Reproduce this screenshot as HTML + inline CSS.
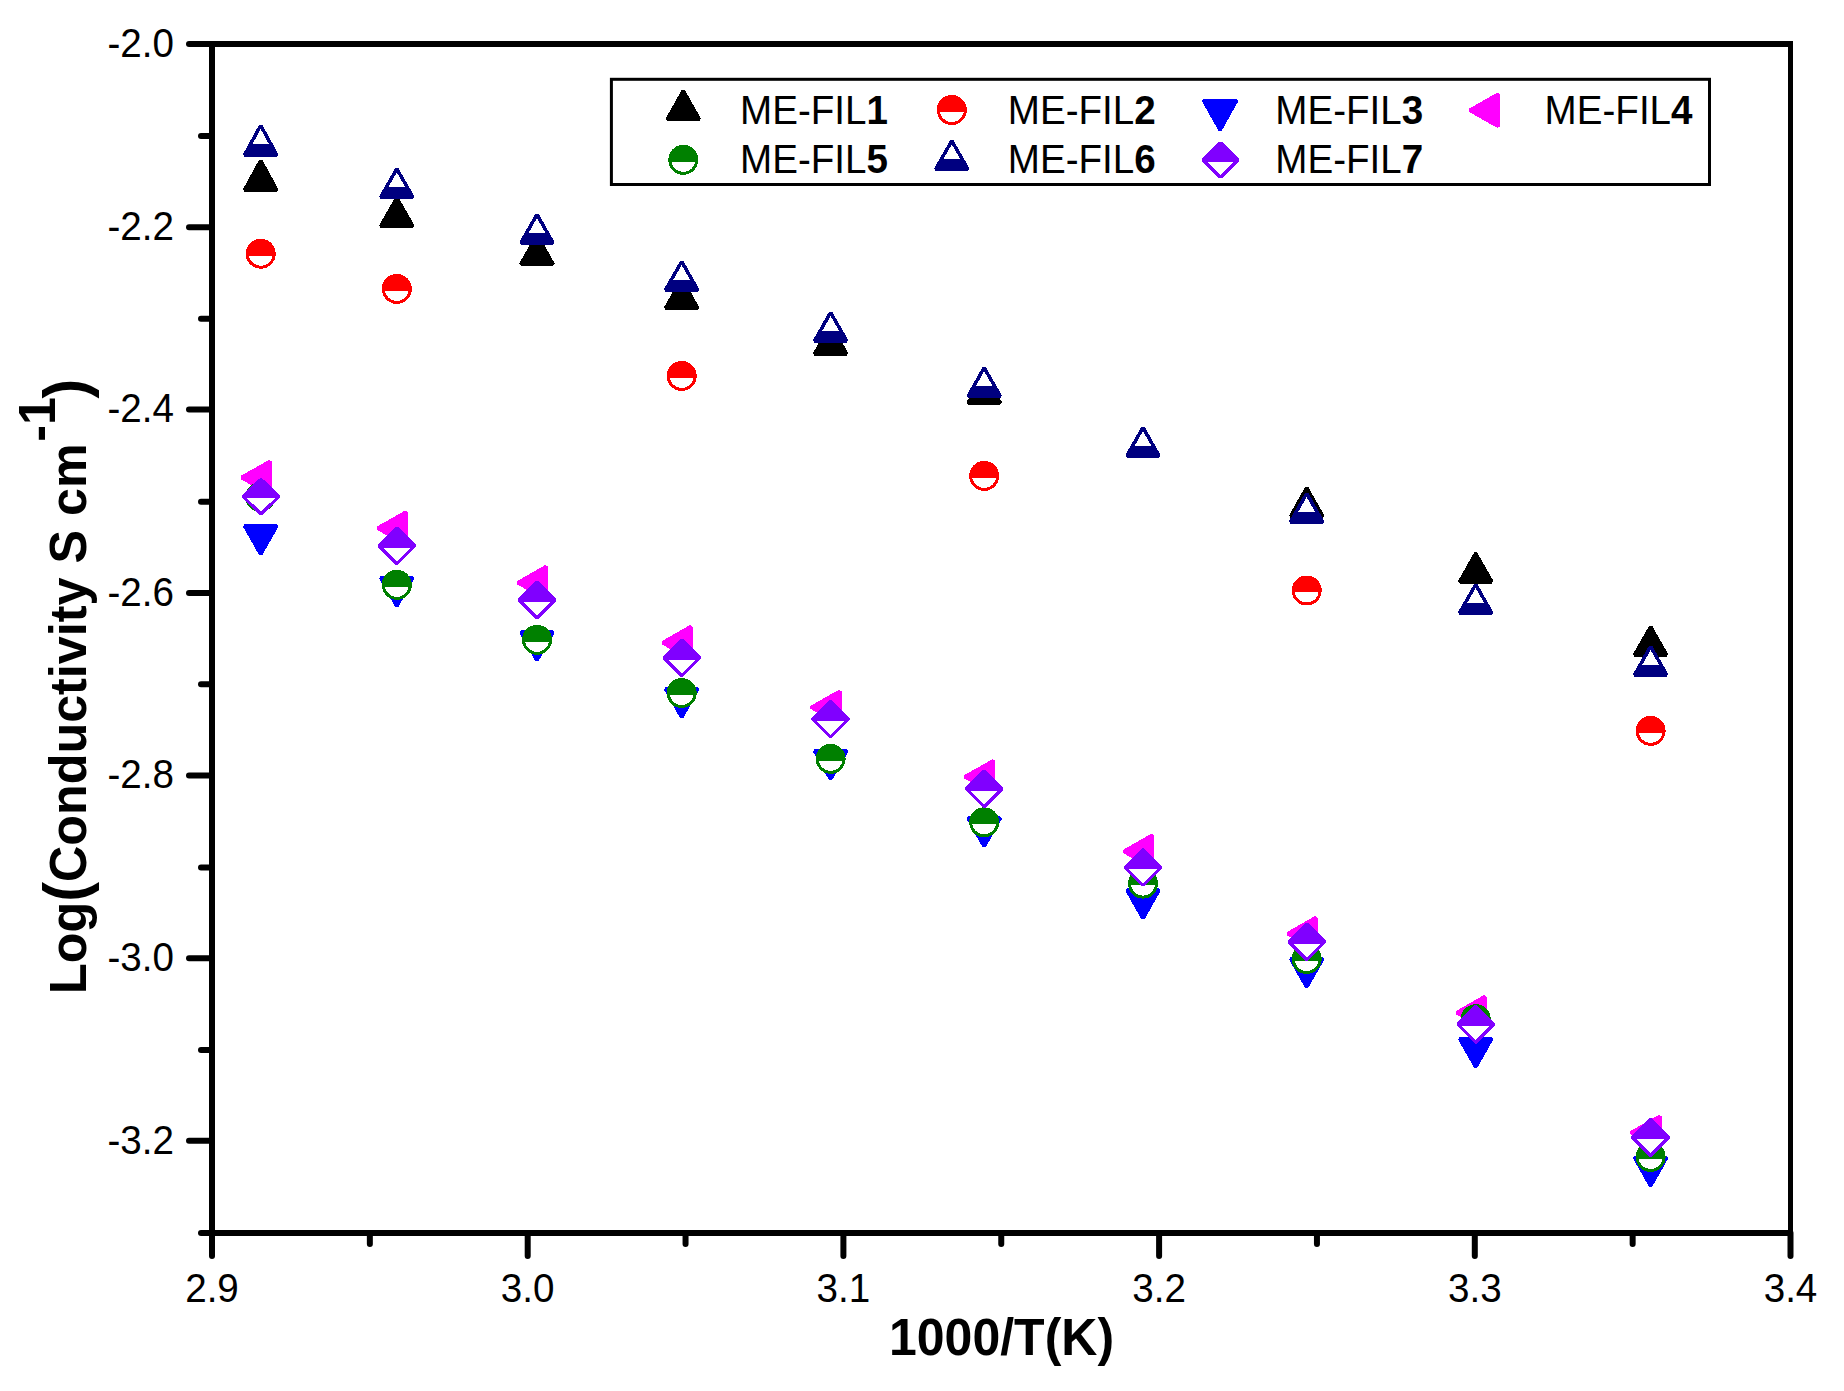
<!DOCTYPE html>
<html lang="en"><head><meta charset="utf-8"><title>Log(Conductivity) vs 1000/T</title>
<style>html,body{margin:0;padding:0;background:#fff}body{width:1844px;height:1391px;overflow:hidden}svg{display:block}text{font-family:"Liberation Sans",sans-serif;fill:#000}</style></head><body>
<svg width="1844" height="1391" viewBox="0 0 1844 1391">
<rect width="1844" height="1391" fill="#fff"/>
<g stroke="#000" fill="none">
<line x1="212" y1="40.9" x2="212" y2="1236" stroke-width="6"/>
<line x1="209" y1="43.9" x2="1793.0" y2="43.9" stroke-width="6"/>
<line x1="209" y1="1233" x2="1793.0" y2="1233" stroke-width="6"/>
<line x1="1790.5" y1="40.9" x2="1790.5" y2="1236" stroke-width="5"/>
</g>
<g stroke="#000" stroke-width="6" stroke-linecap="round">
<line x1="212" y1="44" x2="189" y2="44"/>
<line x1="212" y1="136" x2="201" y2="136"/>
<line x1="212" y1="227.2" x2="189" y2="227.2"/>
<line x1="212" y1="318.7" x2="201" y2="318.7"/>
<line x1="212" y1="409.6" x2="189" y2="409.6"/>
<line x1="212" y1="501.7" x2="201" y2="501.7"/>
<line x1="212" y1="593" x2="189" y2="593"/>
<line x1="212" y1="684.2" x2="201" y2="684.2"/>
<line x1="212" y1="775.4" x2="189" y2="775.4"/>
<line x1="212" y1="867.4" x2="201" y2="867.4"/>
<line x1="212" y1="958.2" x2="189" y2="958.2"/>
<line x1="212" y1="1049.9" x2="201" y2="1049.9"/>
<line x1="212" y1="1140.7" x2="189" y2="1140.7"/>
<line x1="212" y1="1233.1" x2="201" y2="1233.1"/>
<line x1="212" y1="1233" x2="212" y2="1256"/>
<line x1="369.85" y1="1233" x2="369.85" y2="1244"/>
<line x1="527.7" y1="1233" x2="527.7" y2="1256"/>
<line x1="685.55" y1="1233" x2="685.55" y2="1244"/>
<line x1="843.4" y1="1233" x2="843.4" y2="1256"/>
<line x1="1001.25" y1="1233" x2="1001.25" y2="1244"/>
<line x1="1159.1" y1="1233" x2="1159.1" y2="1256"/>
<line x1="1316.95" y1="1233" x2="1316.95" y2="1244"/>
<line x1="1474.8" y1="1233" x2="1474.8" y2="1256"/>
<line x1="1632.65" y1="1233" x2="1632.65" y2="1244"/>
<line x1="1790.5" y1="1233" x2="1790.5" y2="1256"/>
</g>
<g font-size="38.6">
<text transform="translate(174 56.8) scale(1 1.03)" text-anchor="end">-2.0</text>
<text transform="translate(174 240) scale(1 1.03)" text-anchor="end">-2.2</text>
<text transform="translate(174 422.4) scale(1 1.03)" text-anchor="end">-2.4</text>
<text transform="translate(174 605.8) scale(1 1.03)" text-anchor="end">-2.6</text>
<text transform="translate(174 788.2) scale(1 1.03)" text-anchor="end">-2.8</text>
<text transform="translate(174 971) scale(1 1.03)" text-anchor="end">-3.0</text>
<text transform="translate(174 1153.5) scale(1 1.03)" text-anchor="end">-3.2</text>
<text transform="translate(212 1302) scale(1 1.03)" text-anchor="middle">2.9</text>
<text transform="translate(527.7 1302) scale(1 1.03)" text-anchor="middle">3.0</text>
<text transform="translate(843.4 1302) scale(1 1.03)" text-anchor="middle">3.1</text>
<text transform="translate(1159.1 1302) scale(1 1.03)" text-anchor="middle">3.2</text>
<text transform="translate(1474.8 1302) scale(1 1.03)" text-anchor="middle">3.3</text>
<text transform="translate(1790.5 1302) scale(1 1.03)" text-anchor="middle">3.4</text>
</g>
<text transform="translate(1001.5 1355) scale(1 1.03)" text-anchor="middle" font-size="50" font-weight="bold">1000/T(K)</text>
<text transform="translate(86.2 994) rotate(-90) scale(1 1.03)" font-size="50.3" font-weight="bold">Log<tspan font-size="59.5">(</tspan>Conductivity S cm<tspan dy="-30.2" dx="1.5">-1</tspan><tspan dy="30.2" dx="-1.5" font-size="59.5">)</tspan></text>
<g shape-rendering="crispEdges">
<polygon points="260.7,160.35 244.57,190.05 276.83,190.05" fill="#000000" stroke="#000000" stroke-width="3.5" stroke-linejoin="bevel"/>
<polygon points="396.8,197.75 380.67,226.15 412.93,226.15" fill="#000000" stroke="#000000" stroke-width="3.5" stroke-linejoin="bevel"/>
<polygon points="537,235.75 520.87,264.15 553.13,264.15" fill="#000000" stroke="#000000" stroke-width="3.5" stroke-linejoin="bevel"/>
<polygon points="681.7,279.75 665.57,308.15 697.83,308.15" fill="#000000" stroke="#000000" stroke-width="3.5" stroke-linejoin="bevel"/>
<polygon points="830.6,325.55 814.47,353.95 846.73,353.95" fill="#000000" stroke="#000000" stroke-width="3.5" stroke-linejoin="bevel"/>
<polygon points="984.2,374.55 968.07,402.95 1000.33,402.95" fill="#000000" stroke="#000000" stroke-width="3.5" stroke-linejoin="bevel"/>
<polygon points="1306.7,487.85 1290.57,516.25 1322.83,516.25" fill="#000000" stroke="#000000" stroke-width="3.5" stroke-linejoin="bevel"/>
<polygon points="1475.7,553.35 1459.57,581.75 1491.83,581.75" fill="#000000" stroke="#000000" stroke-width="3.5" stroke-linejoin="bevel"/>
<polygon points="1650.6,626.65 1634.47,655.05 1666.73,655.05" fill="#000000" stroke="#000000" stroke-width="3.5" stroke-linejoin="bevel"/>
<circle cx="260.7" cy="253.7" r="13.5" fill="#fff" stroke="#ff0000" stroke-width="3"/><path d="M247.32 255.5A13.5 13.5 0 1 1 274.08 255.5Z" fill="#ff0000"/>
<circle cx="396.8" cy="288.9" r="13.5" fill="#fff" stroke="#ff0000" stroke-width="3"/><path d="M383.42 290.7A13.5 13.5 0 1 1 410.18 290.7Z" fill="#ff0000"/>
<circle cx="681.7" cy="375.9" r="13.5" fill="#fff" stroke="#ff0000" stroke-width="3"/><path d="M668.32 377.7A13.5 13.5 0 1 1 695.08 377.7Z" fill="#ff0000"/>
<circle cx="984.2" cy="475.9" r="13.5" fill="#fff" stroke="#ff0000" stroke-width="3"/><path d="M970.82 477.7A13.5 13.5 0 1 1 997.58 477.7Z" fill="#ff0000"/>
<circle cx="1306.7" cy="590.5" r="13.5" fill="#fff" stroke="#ff0000" stroke-width="3"/><path d="M1293.32 592.3A13.5 13.5 0 1 1 1320.08 592.3Z" fill="#ff0000"/>
<circle cx="1650.6" cy="730.8" r="13.5" fill="#fff" stroke="#ff0000" stroke-width="3"/><path d="M1637.22 732.6A13.5 13.5 0 1 1 1663.98 732.6Z" fill="#ff0000"/>
<polygon points="244.57,525.95 276.83,525.95 260.7,554.35" fill="#0000ff" stroke="#0000ff" stroke-width="3.5" stroke-linejoin="bevel"/>
<polygon points="380.67,577.75 412.93,577.75 396.8,606.15" fill="#0000ff" stroke="#0000ff" stroke-width="3.5" stroke-linejoin="bevel"/>
<polygon points="520.87,631.95 553.13,631.95 537,660.35" fill="#0000ff" stroke="#0000ff" stroke-width="3.5" stroke-linejoin="bevel"/>
<polygon points="665.57,688.95 697.83,688.95 681.7,717.35" fill="#0000ff" stroke="#0000ff" stroke-width="3.5" stroke-linejoin="bevel"/>
<polygon points="814.47,750.85 846.73,750.85 830.6,779.25" fill="#0000ff" stroke="#0000ff" stroke-width="3.5" stroke-linejoin="bevel"/>
<polygon points="968.07,818.15 1000.33,818.15 984.2,846.55" fill="#0000ff" stroke="#0000ff" stroke-width="3.5" stroke-linejoin="bevel"/>
<polygon points="1126.87,890.05 1159.13,890.05 1143,918.45" fill="#0000ff" stroke="#0000ff" stroke-width="3.5" stroke-linejoin="bevel"/>
<polygon points="1290.57,958.75 1322.83,958.75 1306.7,987.15" fill="#0000ff" stroke="#0000ff" stroke-width="3.5" stroke-linejoin="bevel"/>
<polygon points="1459.57,1038.65 1491.83,1038.65 1475.7,1067.05" fill="#0000ff" stroke="#0000ff" stroke-width="3.5" stroke-linejoin="bevel"/>
<polygon points="1634.47,1157.55 1666.73,1157.55 1650.6,1185.95" fill="#0000ff" stroke="#0000ff" stroke-width="3.5" stroke-linejoin="bevel"/>
<polygon points="241.45,477.5 269.85,461.37 269.85,493.63" fill="#ff00ff" stroke="#ff00ff" stroke-width="3.5" stroke-linejoin="bevel"/>
<polygon points="377.55,528.2 405.95,512.07 405.95,544.33" fill="#ff00ff" stroke="#ff00ff" stroke-width="3.5" stroke-linejoin="bevel"/>
<polygon points="517.75,582.7 546.15,566.57 546.15,598.83" fill="#ff00ff" stroke="#ff00ff" stroke-width="3.5" stroke-linejoin="bevel"/>
<polygon points="662.45,642.7 690.85,626.57 690.85,658.83" fill="#ff00ff" stroke="#ff00ff" stroke-width="3.5" stroke-linejoin="bevel"/>
<polygon points="811.35,707.4 839.75,691.27 839.75,723.53" fill="#ff00ff" stroke="#ff00ff" stroke-width="3.5" stroke-linejoin="bevel"/>
<polygon points="964.95,776.8 993.35,760.67 993.35,792.93" fill="#ff00ff" stroke="#ff00ff" stroke-width="3.5" stroke-linejoin="bevel"/>
<polygon points="1123.75,851.4 1152.15,835.27 1152.15,867.53" fill="#ff00ff" stroke="#ff00ff" stroke-width="3.5" stroke-linejoin="bevel"/>
<polygon points="1287.45,933.7 1315.85,917.57 1315.85,949.83" fill="#ff00ff" stroke="#ff00ff" stroke-width="3.5" stroke-linejoin="bevel"/>
<polygon points="1456.45,1012.7 1484.85,996.57 1484.85,1028.83" fill="#ff00ff" stroke="#ff00ff" stroke-width="3.5" stroke-linejoin="bevel"/>
<polygon points="1631.35,1132.5 1659.75,1116.37 1659.75,1148.63" fill="#ff00ff" stroke="#ff00ff" stroke-width="3.5" stroke-linejoin="bevel"/>
<circle cx="260.4" cy="496.9" r="13.5" fill="#fff" stroke="#008000" stroke-width="3"/><path d="M247.02 498.7A13.5 13.5 0 1 1 273.78 498.7Z" fill="#008000"/>
<circle cx="396.8" cy="584.85" r="13.5" fill="#fff" stroke="#008000" stroke-width="3"/><path d="M383.42 586.65A13.5 13.5 0 1 1 410.18 586.65Z" fill="#008000"/>
<circle cx="537" cy="639.8" r="13.5" fill="#fff" stroke="#008000" stroke-width="3"/><path d="M523.62 641.6A13.5 13.5 0 1 1 550.38 641.6Z" fill="#008000"/>
<circle cx="681.7" cy="693" r="13.5" fill="#fff" stroke="#008000" stroke-width="3"/><path d="M668.32 694.8A13.5 13.5 0 1 1 695.08 694.8Z" fill="#008000"/>
<circle cx="830.6" cy="758.8" r="13.5" fill="#fff" stroke="#008000" stroke-width="3"/><path d="M817.22 760.6A13.5 13.5 0 1 1 843.98 760.6Z" fill="#008000"/>
<circle cx="984.2" cy="822.3" r="13.5" fill="#fff" stroke="#008000" stroke-width="3"/><path d="M970.82 824.1A13.5 13.5 0 1 1 997.58 824.1Z" fill="#008000"/>
<circle cx="1143" cy="883.6" r="13.5" fill="#fff" stroke="#008000" stroke-width="3"/><path d="M1129.62 885.4A13.5 13.5 0 1 1 1156.38 885.4Z" fill="#008000"/>
<circle cx="1306.7" cy="959" r="13.5" fill="#fff" stroke="#008000" stroke-width="3"/><path d="M1293.32 960.8A13.5 13.5 0 1 1 1320.08 960.8Z" fill="#008000"/>
<circle cx="1475.7" cy="1019.2" r="13.5" fill="#fff" stroke="#008000" stroke-width="3"/><path d="M1462.32 1021A13.5 13.5 0 1 1 1489.08 1021Z" fill="#008000"/>
<circle cx="1650.6" cy="1156.9" r="13.5" fill="#fff" stroke="#008000" stroke-width="3"/><path d="M1637.22 1158.7A13.5 13.5 0 1 1 1663.98 1158.7Z" fill="#008000"/>
<polygon points="260.7,125.35 244.57,155.05 276.83,155.05" fill="#fff" stroke="#000080" stroke-width="3.5" stroke-linejoin="bevel"/><polygon points="250.63,143.9 270.77,143.9 276.83,155.05 244.57,155.05" fill="#000080"/>
<polygon points="396.8,168.75 380.67,197.15 412.93,197.15" fill="#fff" stroke="#000080" stroke-width="3.5" stroke-linejoin="bevel"/><polygon points="386.26,187.3 407.34,187.3 412.93,197.15 380.67,197.15" fill="#000080"/>
<polygon points="537,214.55 520.87,242.95 553.13,242.95" fill="#fff" stroke="#000080" stroke-width="3.5" stroke-linejoin="bevel"/><polygon points="526.46,233.1 547.54,233.1 553.13,242.95 520.87,242.95" fill="#000080"/>
<polygon points="681.7,261.55 665.57,289.95 697.83,289.95" fill="#fff" stroke="#000080" stroke-width="3.5" stroke-linejoin="bevel"/><polygon points="671.16,280.1 692.24,280.1 697.83,289.95 665.57,289.95" fill="#000080"/>
<polygon points="830.6,312.55 814.47,340.95 846.73,340.95" fill="#fff" stroke="#000080" stroke-width="3.5" stroke-linejoin="bevel"/><polygon points="820.06,331.1 841.14,331.1 846.73,340.95 814.47,340.95" fill="#000080"/>
<polygon points="984.2,367.75 968.07,396.15 1000.33,396.15" fill="#fff" stroke="#000080" stroke-width="3.5" stroke-linejoin="bevel"/><polygon points="973.66,386.3 994.74,386.3 1000.33,396.15 968.07,396.15" fill="#000080"/>
<polygon points="1143,427.55 1126.87,455.95 1159.13,455.95" fill="#fff" stroke="#000080" stroke-width="3.5" stroke-linejoin="bevel"/><polygon points="1132.46,446.1 1153.54,446.1 1159.13,455.95 1126.87,455.95" fill="#000080"/>
<polygon points="1306.7,493.55 1290.57,521.95 1322.83,521.95" fill="#fff" stroke="#000080" stroke-width="3.5" stroke-linejoin="bevel"/><polygon points="1296.16,512.1 1317.24,512.1 1322.83,521.95 1290.57,521.95" fill="#000080"/>
<polygon points="1475.7,584.55 1459.57,612.95 1491.83,612.95" fill="#fff" stroke="#000080" stroke-width="3.5" stroke-linejoin="bevel"/><polygon points="1465.16,603.1 1486.24,603.1 1491.83,612.95 1459.57,612.95" fill="#000080"/>
<polygon points="1650.6,646.55 1634.47,674.95 1666.73,674.95" fill="#fff" stroke="#000080" stroke-width="3.5" stroke-linejoin="bevel"/><polygon points="1640.06,665.1 1661.14,665.1 1666.73,674.95 1634.47,674.95" fill="#000080"/>
<polygon points="261,479.3 279,496.6 261,513.9 243,496.6" fill="#fff" stroke="#8000ff" stroke-width="3.2" stroke-linejoin="bevel"/><polygon points="243,496.6 261,479.3 279,496.6 277.2,498.4 244.8,498.4" fill="#8000ff"/>
<polygon points="396.8,527.9 414.8,545.9 396.8,563.9 378.8,545.9" fill="#fff" stroke="#8000ff" stroke-width="3.2" stroke-linejoin="bevel"/><polygon points="378.8,545.9 396.8,527.9 414.8,545.9 413,547.7 380.6,547.7" fill="#8000ff"/>
<polygon points="537,581.8 555,599.8 537,617.8 519,599.8" fill="#fff" stroke="#8000ff" stroke-width="3.2" stroke-linejoin="bevel"/><polygon points="519,599.8 537,581.8 555,599.8 553.2,601.6 520.8,601.6" fill="#8000ff"/>
<polygon points="681.7,639.9 699.7,657.9 681.7,675.9 663.7,657.9" fill="#fff" stroke="#8000ff" stroke-width="3.2" stroke-linejoin="bevel"/><polygon points="663.7,657.9 681.7,639.9 699.7,657.9 697.9,659.7 665.5,659.7" fill="#8000ff"/>
<polygon points="830.6,700.9 848.6,718.9 830.6,736.9 812.6,718.9" fill="#fff" stroke="#8000ff" stroke-width="3.2" stroke-linejoin="bevel"/><polygon points="812.6,718.9 830.6,700.9 848.6,718.9 846.8,720.7 814.4,720.7" fill="#8000ff"/>
<polygon points="984.2,770.8 1002.2,788.8 984.2,806.8 966.2,788.8" fill="#fff" stroke="#8000ff" stroke-width="3.2" stroke-linejoin="bevel"/><polygon points="966.2,788.8 984.2,770.8 1002.2,788.8 1000.4,790.6 968,790.6" fill="#8000ff"/>
<polygon points="1143,849.3 1161,867.3 1143,885.3 1125,867.3" fill="#fff" stroke="#8000ff" stroke-width="3.2" stroke-linejoin="bevel"/><polygon points="1125,867.3 1143,849.3 1161,867.3 1159.2,869.1 1126.8,869.1" fill="#8000ff"/>
<polygon points="1306.7,923.8 1324.7,941.8 1306.7,959.8 1288.7,941.8" fill="#fff" stroke="#8000ff" stroke-width="3.2" stroke-linejoin="bevel"/><polygon points="1288.7,941.8 1306.7,923.8 1324.7,941.8 1322.9,943.6 1290.5,943.6" fill="#8000ff"/>
<polygon points="1475.7,1006.4 1493.7,1024.4 1475.7,1042.4 1457.7,1024.4" fill="#fff" stroke="#8000ff" stroke-width="3.2" stroke-linejoin="bevel"/><polygon points="1457.7,1024.4 1475.7,1006.4 1493.7,1024.4 1491.9,1026.2 1459.5,1026.2" fill="#8000ff"/>
<polygon points="1650.6,1119.5 1668.6,1137.5 1650.6,1155.5 1632.6,1137.5" fill="#fff" stroke="#8000ff" stroke-width="3.2" stroke-linejoin="bevel"/><polygon points="1632.6,1137.5 1650.6,1119.5 1668.6,1137.5 1666.8,1139.3 1634.4,1139.3" fill="#8000ff"/>
</g>
<rect x="611.4" y="79.3" width="1098.1" height="105.2" fill="#fff" stroke="#000" stroke-width="3"/>
<g shape-rendering="crispEdges">
<polygon points="683.3,90.85 667.17,119.25 699.43,119.25" fill="#000000" stroke="#000000" stroke-width="3.5" stroke-linejoin="bevel"/>
<circle cx="951.8" cy="110" r="13.5" fill="#fff" stroke="#ff0000" stroke-width="3"/><path d="M938.42 111.8A13.5 13.5 0 1 1 965.18 111.8Z" fill="#ff0000"/>
<polygon points="1203.5,100.45 1236.7,100.45 1220.1,130.1" fill="#0000ff" stroke="#0000ff" stroke-width="3.5" stroke-linejoin="bevel"/>
<polygon points="1469.75,110.3 1498.15,94.17 1498.15,126.43" fill="#ff00ff" stroke="#ff00ff" stroke-width="3.5" stroke-linejoin="bevel"/>
<circle cx="683.3" cy="159.8" r="13.5" fill="#fff" stroke="#008000" stroke-width="3"/><path d="M669.92 161.6A13.5 13.5 0 1 1 696.68 161.6Z" fill="#008000"/>
<polygon points="951.8,140.85 935.67,169.25 967.93,169.25" fill="#fff" stroke="#000080" stroke-width="3.5" stroke-linejoin="bevel"/><polygon points="941.26,159.4 962.34,159.4 967.93,169.25 935.67,169.25" fill="#000080"/>
<polygon points="1220.5,142.7 1237.8,160 1220.5,177.3 1203.2,160" fill="#fff" stroke="#8000ff" stroke-width="3.2" stroke-linejoin="bevel"/><polygon points="1203.2,160 1220.5,142.7 1237.8,160 1236,161.8 1205,161.8" fill="#8000ff"/>
</g>
<g font-size="38.6">
<text transform="translate(740.0 123.8) scale(1 1.035)">ME-FIL<tspan font-weight="bold">1</tspan></text>
<text transform="translate(1007.8 123.8) scale(1 1.035)">ME-FIL<tspan font-weight="bold">2</tspan></text>
<text transform="translate(1275.3 123.8) scale(1 1.035)">ME-FIL<tspan font-weight="bold">3</tspan></text>
<text transform="translate(1544.6 123.8) scale(1 1.035)">ME-FIL<tspan font-weight="bold">4</tspan></text>
<text transform="translate(740.0 173) scale(1 1.035)">ME-FIL<tspan font-weight="bold">5</tspan></text>
<text transform="translate(1007.8 173) scale(1 1.035)">ME-FIL<tspan font-weight="bold">6</tspan></text>
<text transform="translate(1275.3 173) scale(1 1.035)">ME-FIL<tspan font-weight="bold">7</tspan></text>
</g>
</svg></body></html>
